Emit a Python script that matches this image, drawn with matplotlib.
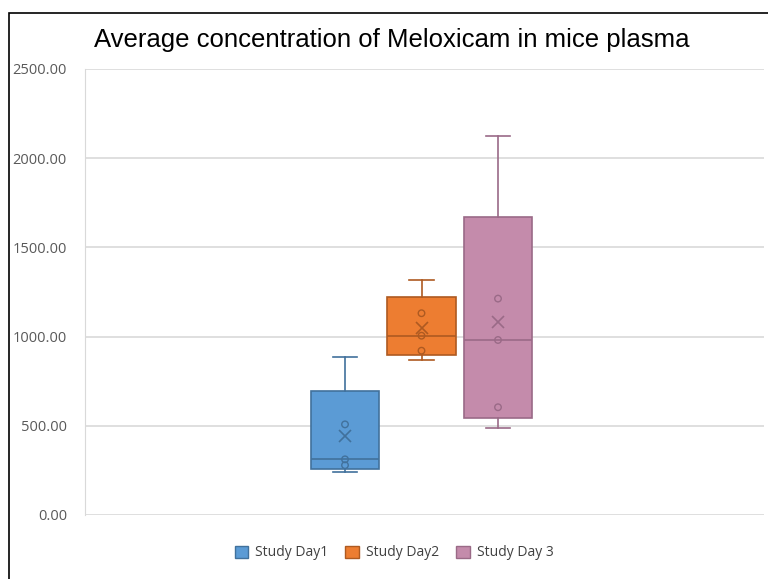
import numpy as np
import matplotlib
matplotlib.use("Agg")
import matplotlib.pyplot as plt
from matplotlib.patches import Patch, Rectangle

# concentration values per study day
labels = ["Study Day1", "Study Day2", "Study Day 3"]
day1 = [239, 279, 312, 508, 884]
day2 = [869, 921, 1005, 1131, 1317]
day3 = [486, 604, 981, 1213, 2125]
fills = ["#5B9BD5", "#ED7D31", "#C48BAB"]
edges = ["#41719C", "#AE5A21", "#9A6A87"]

groups = [day1, day2, day3]
positions = [1, 2, 3]

fig = plt.figure(figsize=(7.68, 5.79), dpi=100)
ax = fig.add_axes([85 / 768, 1 - 515 / 579, (764 - 85) / 768, (515 - 69) / 579])

# Excel-style (exclusive) quartiles
stats = []
for g in groups:
    q1, med, q3 = np.percentile(g, [25, 50, 75], method="weibull")
    stats.append(dict(med=med, q1=q1, q3=q3, whislo=min(g), whishi=max(g),
                      mean=np.mean(g), fliers=[]))

for i, (st, pos) in enumerate(zip(stats, positions)):
    ec = edges[i]
    ax.bxp([st], positions=[pos], widths=0.9, patch_artist=True, showmeans=True,
           boxprops=dict(facecolor=fills[i], edgecolor=ec, linewidth=1.2),
           medianprops=dict(color=ec, linewidth=1.2),
           whiskerprops=dict(color=ec, linewidth=1.2),
           capprops=dict(color=ec, linewidth=1.2),
           meanprops=dict(marker="x", markeredgecolor=ec, markersize=9, markeredgewidth=1.2),
           capwidths=0.32, zorder=3)
    g = groups[i]
    inner = [v for v in g if min(g) < v < max(g)]
    ax.scatter([pos] * len(inner), inner, s=22, facecolors="none", edgecolors=ec,
               linewidths=1.0, zorder=4)

ax.set_xlim(1 - 260 / 76.5, 1 + 419 / 76.5)
ax.set_ylim(0, 2500)
ax.set_yticks(np.arange(0, 2501, 500))
ax.set_yticklabels([f"{v:.2f}" for v in np.arange(0, 2501, 500)],
                   fontsize=10.5, color="#595959", family="Open Sans")
ax.set_xticks([])
ax.tick_params(axis="y", length=0, pad=13)
ax.grid(axis="y", color="#D9D9D9", linewidth=1.2, zorder=0)
ax.set_axisbelow(True)
for s in ["top", "right", "bottom"]:
    ax.spines[s].set_visible(False)
ax.spines["left"].set_color("#D9D9D9")

fig.text(392 / 768, 1 - 40 / 579, "Average concentration of Meloxicam in mice plasma",
         ha="center", va="center", fontsize=18.5, family="Liberation Sans")

handles = [Patch(facecolor=f, edgecolor=e, label=l) for f, e, l in zip(fills, edges, labels)]
fig.legend(handles=handles, loc="center", bbox_to_anchor=(394 / 768, 1 - 553 / 579),
           ncol=3, frameon=False, handlelength=1.0, handleheight=1.0,
           columnspacing=1.2, handletextpad=0.5,
           prop=dict(family="Open Sans", size=10), labelcolor="#404040")

# outer chart frame (top and left edges visible)
fig.add_artist(Rectangle((9 / 768, -0.1), 1.2, 1.1 - 13 / 579, transform=fig.transFigure,
                         fill=False, edgecolor="black", linewidth=1.2))

fig.savefig("out.png", dpi=100)
